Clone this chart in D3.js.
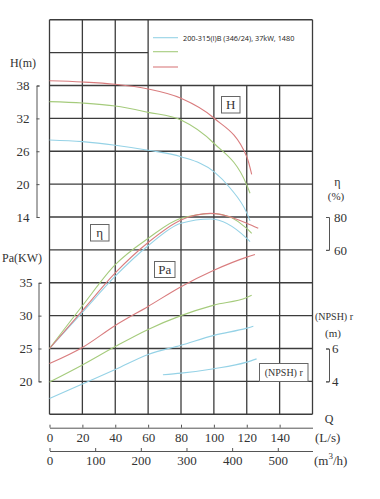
<!DOCTYPE html>
<html><head><meta charset="utf-8">
<script src="https://cdn.jsdelivr.net/npm/d3@7"></script>
<style>
html,body{margin:0;padding:0;background:#fff;}
svg{display:block;}
.ax text{font-family:"Liberation Serif","Times New Roman","DejaVu Serif",serif;font-size:13px;fill:#333;}
.ax path,.ax line{stroke:#555;stroke-width:1;}
.lbl{font-family:"Liberation Serif","Times New Roman","DejaVu Serif",serif;fill:#333;}
</style></head><body>
<svg id="c" width="380" height="499"></svg>
<script>
// ---- data ----
const legendLabel = "200-315(I)B (346/24), 37kW, 1480";
const qTicksLs = [0,20,40,60,80,100,120,140];
const qTicksM3h = [0,100,200,300,400,500];
const hTicks = [14,20,26,32,38];
const paTicks = [20,25,30,35];
const etaTicks = [60,80];
const npshTicks = [4,6];

// H curves
const hRedQ   = [0,20,40,60,80,100,120,123];
const hRed    = [38.86,38.64,38.22,37.36,35.67,32.07,25.0,21.8];
const hGreenQ = [0,20,40,60,80,100,120,122];
const hGreen  = [35.05,34.8,34.26,33.1,31.7,27.46,19.85,18.34];
const hCyanQ  = [0,20,40,60,80,100,110,120,122];
const hCyan   = [28.06,27.75,27.1,26.18,25.0,22.28,19.25,14.75,13.3];
// efficiency curves
const etaRedQ   = [0,20,40,60,80,98,120,127];
const etaRed    = [0,23,46,64.5,78.2,82.2,76.2,73.1];
const etaGreenQ = [0,20,40,60,80,100,120,123];
const etaGreen  = [0,26,51,67,79.2,82.1,73.1,70.1];
const etaCyanQ  = [0,20,40,60,80,98,120,122];
const etaCyan   = [0,22,44,62.5,76.2,78.8,67,65];
// power curves
const paRedQ   = [0,20,40,60,80,100,120,125];
const paRed    = [22.7,25.15,28.5,31.4,34.4,36.9,38.9,39.3];
const paGreenQ = [0,20,40,60,80,100,120,123];
const paGreen  = [19.9,22.5,25.3,27.9,30.0,31.6,32.75,33.1];
const paCyanQ  = [0,20,40,60,80,100,120,124];
const paCyan   = [17.4,19.6,21.8,24.1,25.5,27.0,28.1,28.4];
// NPSHr
const npshCyanQ = [69,80,100,120,126];
const npshCyan  = [4.4,4.5,4.77,5.17,5.37];

const colCyan = "#95d2e6", colGreen = "#a5cb7c", colRed = "#d97c7e";

// ---- scales ----
const svg = d3.select("#c");
const x = d3.scaleLinear().domain([0,160]).range([49.5,312.5]);
const xM = d3.scaleLinear().domain([0,160*3.6]).range([49.5,312.5]);
const yH = d3.scaleLinear().domain([14,38]).range([217,85.5]);
const yPa = d3.scaleLinear().domain([20,35]).range([yH(-16),yH(2)]);
const yEta = d3.scaleLinear().domain([60,80]).range([yH(8),yH(14)]);
const yN = d3.scaleLinear().domain([4,6]).range([yH(-16),yH(-10)]);

// ---- grid ----
const g = svg.append("g").attr("stroke","#3c3c3c").attr("stroke-width",1.3).attr("fill","none");
const rows = d3.range(-22,51,6);
const gTop = yH(50), gBottom = yH(-22), gLeft = x(0), gRight = x(160);
rows.forEach(h=>{
  const partial = (h===44);
  g.append("line").attr("x1",gLeft).attr("x2",partial?x(60):gRight).attr("y1",yH(h)).attr("y2",yH(h));
});
d3.range(0,161,20).forEach(q=>{
  const start = (q>60 && q<160) ? yH(38) : gTop;
  g.append("line").attr("x1",x(q)).attr("x2",x(q)).attr("y1",start).attr("y2",gBottom);
});

// ---- curves ----
const line = d3.line().curve(d3.curveMonotoneX);
function curve(qs, vs, ys, col){
  svg.append("path").attr("d", line(qs.map((q,i)=>[x(q), ys(vs[i])])))
    .attr("fill","none").attr("stroke",col).attr("stroke-width",1.1);
}
curve(hCyanQ,hCyan,yH,colCyan);
curve(hGreenQ,hGreen,yH,colGreen);
curve(hRedQ,hRed,yH,colRed);
curve(etaCyanQ,etaCyan,yEta,colCyan);
curve(etaGreenQ,etaGreen,yEta,colGreen);
curve(etaRedQ,etaRed,yEta,colRed);
curve(paCyanQ,paCyan,yPa,colCyan);
curve(paGreenQ,paGreen,yPa,colGreen);
curve(paRedQ,paRed,yPa,colRed);
curve(npshCyanQ,npshCyan,yN,colCyan);

// ---- boxed labels ----
function box(x0,y0,w,h,txt,fs){
  svg.append("rect").attr("x",x0).attr("y",y0).attr("width",w).attr("height",h)
    .attr("fill","#fff").attr("stroke","#666").attr("stroke-width",1);
  svg.append("text").attr("class","lbl").attr("x",x0+w/2).attr("y",y0+h/2)
    .attr("text-anchor","middle").attr("dominant-baseline","central")
    .attr("font-size",fs).text(txt);
}
box(221.5,96.5,18.5,16.5,"H",13);
box(90.5,224.5,18.5,16.5,"η",13);
box(154.5,261.5,20.5,16,"Pa",13);
box(259.5,363.5,48.5,18,"(NPSH) r",10);

// ---- legend ----
const legCols=[colCyan,colGreen,colRed], legY=[37.7,51.7,67];
legCols.forEach((c,i)=>svg.append("line").attr("x1",153).attr("x2",178)
  .attr("y1",legY[i]).attr("y2",legY[i]).attr("stroke",c).attr("stroke-width",1.1));
svg.append("text").attr("x",183).attr("y",legY[0]).attr("dominant-baseline","central")
  .attr("font-family","'Open Sans',sans-serif").attr("font-size",7.3).attr("fill","#222").text(legendLabel);

// ---- axes ----
svg.append("g").attr("class","ax").attr("transform","translate(36.5,0)")
  .call(d3.axisLeft(yH).tickValues(hTicks).tickSizeInner(-3).tickSizeOuter(-3).tickPadding(7).tickFormat(d3.format("d")));
svg.append("g").attr("class","ax").attr("transform","translate(38.5,0)")
  .call(d3.axisLeft(yPa).tickValues(paTicks).tickSizeInner(-3).tickSizeOuter(-3).tickPadding(6).tickFormat(d3.format("d")));
svg.append("g").attr("class","ax").attr("transform","translate(329,0)")
  .call(d3.axisRight(yEta).tickValues(etaTicks).tickSizeInner(-3).tickSizeOuter(-3).tickPadding(5).tickFormat(d3.format("d")));
svg.append("g").attr("class","ax").attr("transform","translate(329,0)")
  .call(d3.axisRight(yN).tickValues(npshTicks).tickSizeInner(-3).tickSizeOuter(-3).tickPadding(3).tickFormat(d3.format("d")));
svg.append("g").attr("class","ax").attr("transform","translate(0,427.7)")
  .call(d3.axisBottom(x).tickValues(qTicksLs).tickSizeInner(-3).tickSizeOuter(0).tickPadding(5));
svg.append("g").attr("class","ax").attr("transform","translate(0,451)")
  .call(d3.axisBottom(xM).tickValues(qTicksM3h).tickSizeInner(-3).tickSizeOuter(0).tickPadding(5));

// ---- axis titles ----
function t(xp,yp,txt,fs,anchor){
  return svg.append("text").attr("class","lbl").attr("x",xp).attr("y",yp)
    .attr("font-size",fs).attr("text-anchor",anchor||"start").text(txt);
}
t(10,67,"H(m)",12);
t(2,262,"Pa(KW)",12);
t(337.5,186,"η",12,"middle");
t(336,200,"(%)",11,"middle");
t(334,320,"(NPSH) r",10,"middle");
t(333,337,"(m)",11,"middle");
t(329,423,"Q",12,"middle");
t(315,442,"(L/s)",13);
const mt = t(314,465,"(m",13);
mt.append("tspan").attr("font-size",9).attr("dy",-6).text("3");
mt.append("tspan").attr("dy",6).text("/h)");
</script>
</body></html>
